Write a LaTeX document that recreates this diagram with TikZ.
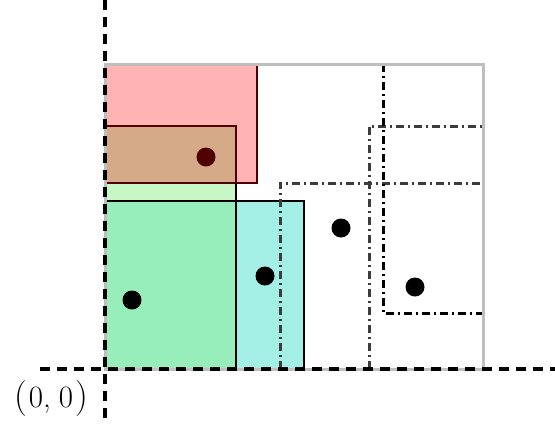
\documentclass[tikz,border=0pt]{standalone}
\usepackage{fontspec}
\usetikzlibrary{calc}
\definecolor{boxpink}{RGB}{255,179,179}
\definecolor{boxtan}{RGB}{212,170,136}
\definecolor{boxlight}{RGB}{199,246,199}
\definecolor{boxgreen}{RGB}{152,238,186}
\definecolor{boxcyan}{RGB}{163,238,229}
\definecolor{darkred}{RGB}{80,0,0}
\definecolor{frame}{RGB}{190,190,190}
\definecolor{dashgray}{RGB}{60,60,60}
\tikzset{
  axis/.style={line width=3.2pt, dash pattern=on 10pt off 7pt},
  solidbox/.style={line width=2.8pt, draw=black},
  dotbox/.style={line width=3pt, dash pattern=on 8pt off 4pt on 2pt off 4pt},
  pt/.style={circle, fill=black, inner sep=0pt, minimum size=19pt},
}
\newcommand{\bigparen}[1]{{\fontsize{36}{42}\selectfont #1}}
\begin{document}
\begin{tikzpicture}[x=1pt,y=-1pt]
\useasboundingbox (0,0) rectangle (555,424);
% filled regions
\fill[boxlight] (105,183) rectangle (236,201);
\draw[solidbox, draw=darkred, fill=boxpink] (105,64) rectangle (257,183);
\draw[solidbox, draw=darkred, fill=boxtan] (105,126) rectangle (236,183);
\draw[solidbox] (236,183) -- (236,201);
\draw[solidbox, fill=boxgreen] (105,201) rectangle (236,369);
\draw[solidbox, fill=boxcyan] (236,201) rectangle (304,369);
% dash-dot regions
\draw[dotbox, draw=dashgray] (280,369) -- (280,183) -- (483,183);
\draw[dotbox, draw=dashgray] (369,369) -- (369,126) -- (483,126);
\draw[dotbox, draw=black] (383,64) -- (383,313) -- (483,313);
% outer frame
\draw[frame, line width=3pt] (105,64) rectangle (483,369);
% axes
\draw[axis] (105,0) -- (105,424);
\draw[axis] (40,369) -- (555,369);
% points
\node[pt, fill=darkred] (p1) at (206,157) {};
\node[pt] (p2) at (132,300) {};
\node[pt] (p3) at (265,276) {};
\node[pt] (p4) at (341,228) {};
\node[pt] (p5) at (415,287) {};
% origin label
\node[font=\fontsize{31}{36}\selectfont, inner sep=0pt] (origin) at (51,399)
  {\bigparen{(}\kern2pt0,\kern8pt0\kern2pt\bigparen{)}};
\end{tikzpicture}
\end{document}
